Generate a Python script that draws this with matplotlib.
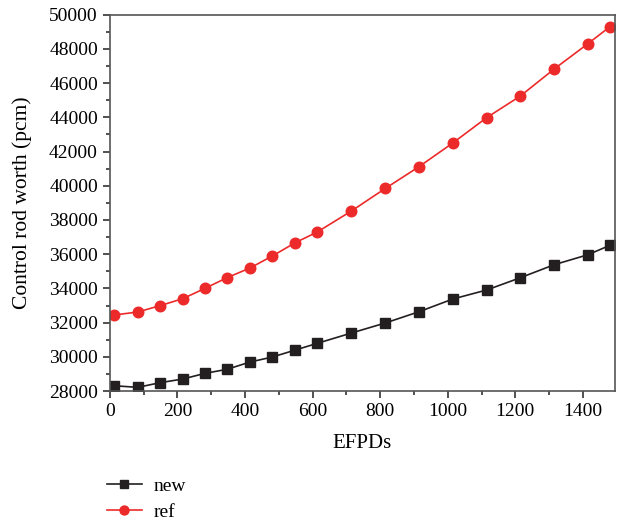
import matplotlib.pyplot as plt
from matplotlib.ticker import MultipleLocator

plt.rcParams['font.family'] = ['Liberation Serif', 'DejaVu Serif']

# EFPD burnup steps and control rod worth (pcm)
efpd = [12, 83, 148, 216, 282, 347, 415, 481, 549, 614,
        715, 815, 915, 1015, 1115, 1215, 1315, 1415, 1480]
worth_new = [28310, 28216, 28485, 28702, 29035, 29269, 29696, 29988, 30398, 30789,
             31392, 31977, 32637, 33380, 33906, 34626, 35386, 35971, 36520]
worth_ref = [32444, 32620, 32988, 33398, 34006, 34626, 35193, 35895, 36673, 37298,
             38526, 39842, 41117, 42503, 43982, 45251, 46830, 48310, 49304]

fig = plt.figure(figsize=(6.2, 5.27), dpi=100)
ax = fig.add_axes([0.177, 0.258, 0.815, 0.714])

ax.plot(efpd, worth_new, '-', color='#231f20', lw=1.2, marker='s', ms=6.8, label='new')
ax.plot(efpd, worth_ref, '-', color='#ed2a2a', lw=1.2, marker='o', ms=7.6, label='ref')

ax.set_xlim(0, 1495)
ax.set_ylim(28000, 50000)
ax.xaxis.set_major_locator(MultipleLocator(200))
ax.xaxis.set_minor_locator(MultipleLocator(100))
ax.yaxis.set_major_locator(MultipleLocator(2000))
ax.yaxis.set_minor_locator(MultipleLocator(1000))
ax.tick_params(which='both', direction='out', color='#333333', width=1.2, labelsize=14)
ax.tick_params(which='major', length=5)
ax.tick_params(which='minor', length=3)
for s in ax.spines.values():
    s.set_color('#555555')
    s.set_linewidth(1.2)

ax.set_xlabel('EFPDs', fontsize=15, labelpad=10)
ax.set_ylabel('Control rod worth (pcm)', fontsize=15.5, labelpad=12)

fig.legend(loc='center left', bbox_to_anchor=(0.172, 0.053), frameon=False,
           fontsize=14, handlelength=1.8, handletextpad=0.6, labelspacing=0.45,
           markerscale=0.85, borderpad=0, borderaxespad=0)

fig.savefig('out.png', dpi=100)
